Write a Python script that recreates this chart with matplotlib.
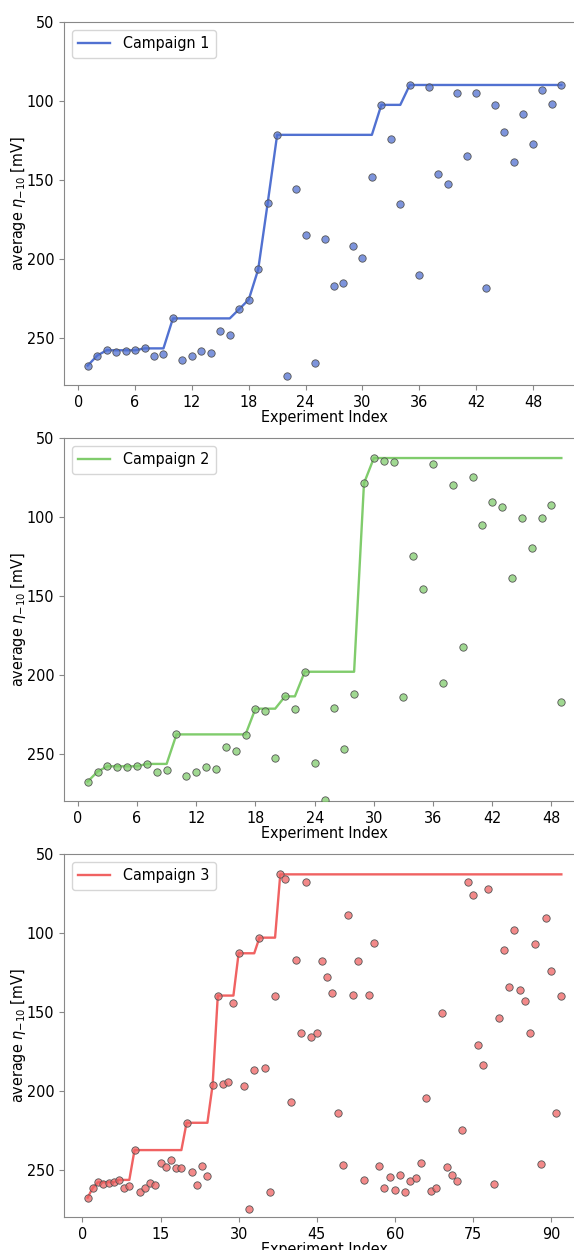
import numpy as np
import matplotlib as mpl
mpl.use('Agg')
import matplotlib.pyplot as plt
from matplotlib.ticker import MultipleLocator
from matplotlib import font_manager

# average eta_-10 per experiment
campaign1 = [267.7, 261.4, 258.0, 258.9, 258.6, 258.0, 256.8, 261.4, 260.1, 237.8,
             263.9, 261.8, 258.2, 259.5, 245.6, 248.5, 231.9, 225.9, 206.8, 164.8,
             121.5, 274.0, 156.1, 184.8, 265.8, 187.6, 217.5, 215.2, 192.2, 199.4,
             148.3, 102.5, 124.1, 165.2, 89.9, 210.5, 91.4, 146.4, 152.5, 94.9,
             134.8, 94.7, 218.4, 102.5, 119.8, 138.4, 108.0, 127.2, 93.2, 101.9,
             90.1]
campaign2 = [267.7, 261.4, 258.0, 258.6, 258.4, 258.0, 256.5, 261.4, 260.1, 237.8,
             263.9, 261.8, 258.2, 259.5, 245.6, 248.5, 238.4, 221.5, 223.0, 253.0,
             213.7, 221.7, 198.1, 256.1, 279.5, 221.3, 246.8, 212.0, 78.7, 62.7,
             64.3, 65.0, 213.9, 124.7, 145.6, 66.7, 205.5, 79.7, 182.5, 74.5,
             104.9, 90.5, 93.7, 139.0, 100.4, 119.4, 100.4, 92.4, 217.3]
campaign3 = [267.7, 261.4, 258.0, 258.9, 258.6, 258.0, 256.5, 261.4, 260.1, 237.6,
             263.9, 261.8, 258.2, 259.5, 245.6, 248.5, 243.7, 248.9, 248.7, 220.3,
             251.3, 259.7, 247.5, 254.0, 196.4, 139.7, 195.6, 194.5, 144.5, 112.9,
             196.8, 274.9, 186.7, 103.0, 185.9, 264.3, 140.1, 62.9, 65.8, 207.4,
             117.1, 163.1, 67.9, 166.0, 163.5, 117.7, 128.1, 138.2, 214.3, 247.3,
             88.4, 139.2, 117.9, 256.8, 139.5, 106.3, 247.5, 261.8, 254.6, 262.7,
             253.2, 264.1, 257.4, 255.3, 246.0, 204.9, 263.5, 261.8, 150.8, 248.3,
             253.2, 257.0, 225.1, 67.9, 76.2, 170.9, 184.0, 72.4, 258.9, 154.0,
             111.0, 134.0, 98.3, 136.1, 143.2, 163.5, 107.0, 246.4, 90.3, 124.3,
             214.3, 139.7]

campaigns = [campaign1, campaign2, campaign3]
labels = ['Campaign 1', 'Campaign 2', 'Campaign 3']
line_colors = ['#5171d1', '#80cc6c', '#f06262']
tick_steps = [6, 6, 15]

plt.rcParams['font.size'] = 11.5
# text in the reference is a bit narrow -> use the condensed DejaVu if it's there
cond = [f for f in font_manager.fontManager.ttflist
        if f.name == 'DejaVu Sans' and f.stretch == 'condensed' and f.weight in (400, 'normal')]
if cond:
    plt.rcParams['font.stretch'] = 'condensed'

fig = plt.figure(figsize=(5.74, 12.5), dpi=100)
bottoms = [0.692, 0.3592, 0.0264]

for vals, lab, col, step, b in zip(campaigns, labels, line_colors, tick_steps, bottoms):
    ax = fig.add_axes([0.1115, b, 0.9077, 0.2904])
    y = np.array(vals)
    x = np.arange(1, len(y) + 1)
    best = np.minimum.accumulate(y)
    ax.plot(x, best, color=col, lw=1.7, label=lab, zorder=2)
    fc = mpl.colors.to_rgba(col, 0.75)
    ax.scatter(x, y, s=28, facecolors=[fc], edgecolors='#555555', linewidths=0.6, zorder=3)
    ax.set_ylim(280, 50)
    ax.set_yticks([50, 100, 150, 200, 250])
    ax.xaxis.set_major_locator(MultipleLocator(step))
    ax.set_xlim(-0.05 * (len(y) - 1) + 1, len(y) + 0.05 * (len(y) - 1))
    for s in ax.spines.values():
        s.set_color('#888888')
    ax.tick_params(colors='#888888', labelcolor='black')
    ax.set_xlabel('Experiment Index', labelpad=0)
    ax.set_ylabel(r'average $\eta_{-10}$ [mV]')
    ax.yaxis.set_label_coords(-0.07, 0.5)
    ax.legend(loc='upper left')

fig.savefig('out.png', dpi=100)
